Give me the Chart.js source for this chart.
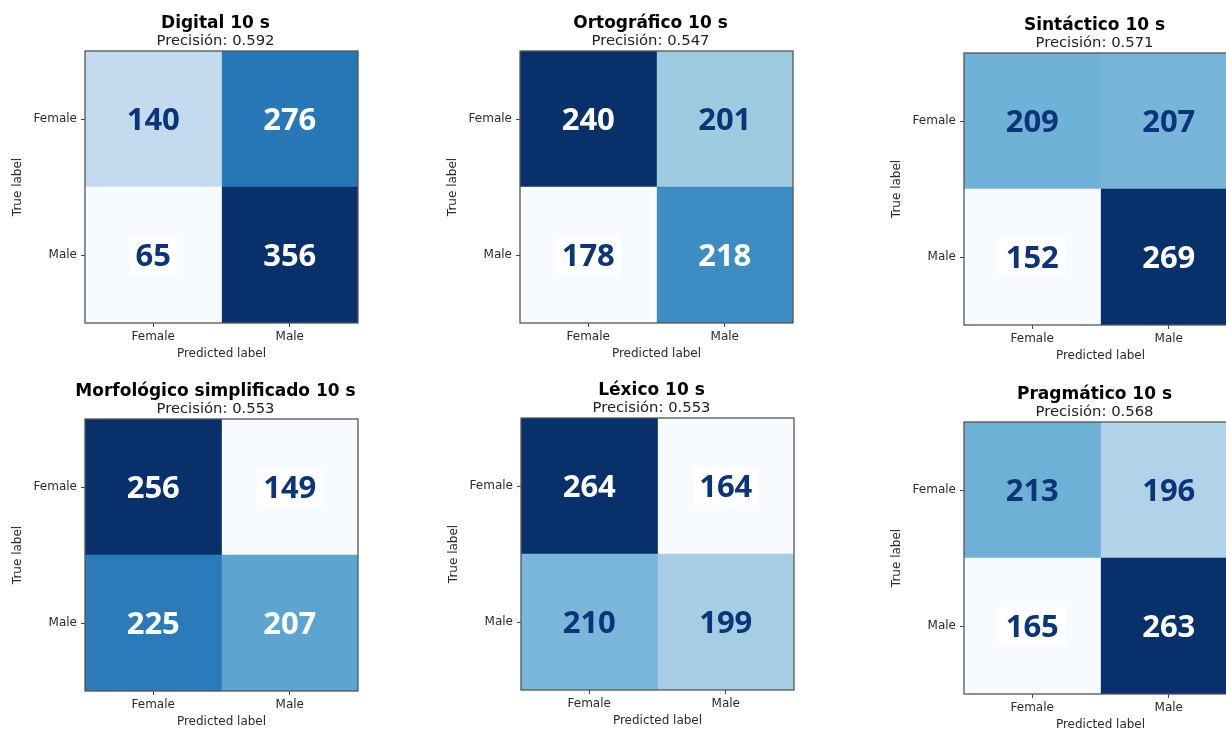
<!DOCTYPE html>
<html>
<head>
<meta charset="utf-8">
<script src="https://cdn.jsdelivr.net/npm/chart.js@4.4.0/dist/chart.umd.min.js"></script>
<style>
    html, body { margin: 0; padding: 0; background: #fff; overflow: hidden; }
    #page { position: relative; width: 1226px; height: 731px; overflow: hidden; }
    #page canvas { position: absolute; }
</style>
</head>
<body>
<div id="page"></div>
<script>
// labels
const categories = ['Female', 'Male'];
const titles = ['Digital 10 s', 'Ortográfico 10 s', 'Sintáctico 10 s',
                'Morfológico simplificado 10 s', 'Léxico 10 s', 'Pragmático 10 s'];
const precision = [0.592, 0.547, 0.571, 0.553, 0.553, 0.568];

// confusion matrices: rows = true label, cols = predicted label
const digital     = [[140, 276], [65, 356]];
const ortografico = [[240, 201], [178, 218]];
const sintactico  = [[209, 207], [152, 269]];
const morfologico = [[256, 149], [225, 207]];
const lexico      = [[264, 164], [210, 199]];
const pragmatico  = [[213, 196], [165, 263]];
const matrices = [digital, ortografico, sintactico, morfologico, lexico, pragmatico];

// where each panel's canvas sits on the page
const panelPos = [[0, 0], [435, 0], [879, 2], [0, 368], [436, 367], [879, 371]];

Chart.defaults.font.family = 'DejaVu Sans';
Chart.defaults.color = '#2b2b2b';

const bluesStops = ['#f7fbff', '#deebf7', '#c6dbef', '#9ecae1', '#6baed6',
                    '#4292c6', '#2171b5', '#08519c', '#08306b'];

function hexToRgb(h) {
    return [parseInt(h.substr(1, 2), 16), parseInt(h.substr(3, 2), 16), parseInt(h.substr(5, 2), 16)];
}

function blues(t) {
    t = Math.max(0, Math.min(1, t));
    let p = t * 8;
    let i = Math.min(7, Math.floor(p));
    let f = p - i;
    let a = hexToRgb(bluesStops[i]), b = hexToRgb(bluesStops[i + 1]);
    let c = a.map((v, k) => Math.round(v + (b[k] - v) * f));
    return 'rgb(' + c.join(',') + ')';
}

const frame = {
    id: 'frame',
    afterDatasetsDraw(chart) {
        const {ctx, chartArea: a} = chart;
        ctx.save();
        ctx.strokeStyle = '#555';
        ctx.lineWidth = 1.3;
        ctx.strokeRect(a.left, a.top, a.right - a.left, a.bottom - a.top);
        ctx.restore();
    }
};

const cellText = {
    id: 'cellText',
    afterDatasetsDraw(chart) {
        const m = chart.options.plugins.cellText.matrix;
        const flat = m.flat();
        const min = Math.min(...flat), max = Math.max(...flat);
        const thresh = (min + max) / 2;
        const ctx = chart.ctx;
        ctx.save();
        ctx.font = 'bold 31px "Open Sans"';
        ctx.textAlign = 'center';
        ctx.textBaseline = 'alphabetic';
        chart.data.datasets.forEach((ds, j) => {
            chart.getDatasetMeta(j).data.forEach((bar, i) => {
                const v = m[i][j];
                const cx = (bar.x + bar.base) / 2;
                const cy = bar.y;
                const txt = String(v);
                if (v === min) {
                    const w = ctx.measureText(txt).width;
                    ctx.fillStyle = '#ffffff';
                    ctx.fillRect(cx - w / 2 - 6, cy - 19, w + 12, 38);
                }
                ctx.fillStyle = v > thresh ? '#ffffff' : '#0a357a';
                ctx.fillText(txt, cx, cy + 11);
            });
        });
        ctx.restore();
    }
};

function makePanel(k) {
    const m = matrices[k];
    const flat = m.flat();
    const min = Math.min(...flat), max = Math.max(...flat);

    const cv = document.createElement('canvas');
    cv.width = 431;
    cv.height = 368;
    cv.style.left = panelPos[k][0] + 'px';
    cv.style.top = panelPos[k][1] + 'px';
    document.getElementById('page').appendChild(cv);

    new Chart(cv, {
        type: 'bar',
        data: {
            labels: categories,
            datasets: categories.map((pred, j) => ({
                label: pred,
                data: m.map(() => 1),
                backgroundColor: m.map(row => blues((row[j] - min) / (max - min))),
                borderWidth: 0,
                barPercentage: 1,
                categoryPercentage: 1,
            }))
        },
        options: {
            indexAxis: 'y',
            responsive: false,
            animation: false,
            events: [],
            layout: { padding: 0 },
            plugins: {
                legend: { display: false },
                tooltip: { enabled: false },
                title: {
                    display: true,
                    text: titles[k],
                    color: '#000',
                    font: { size: 17, weight: 'bold', lineHeight: 1 },
                    padding: { top: 15, bottom: 0 },
                },
                subtitle: {
                    display: true,
                    text: 'Precisión: ' + precision[k].toFixed(3),
                    color: '#222',
                    font: { size: 14.8, lineHeight: 1 },
                    padding: { top: 1.5, bottom: 2.7 },
                },
                cellText: { matrix: m },
            },
            scales: {
                x: {
                    type: 'linear',
                    stacked: true,
                    min: 0,
                    max: 2,
                    afterBuildTicks: (s) => { s.ticks = [{ value: 0.5 }, { value: 1.5 }]; },
                    afterFit: (s) => { s.height = 45; },
                    ticks: {
                        callback: (v) => categories[Math.floor(v)],
                        autoSkip: false,
                        maxRotation: 0,
                        padding: 3,
                        font: { size: 12 },
                    },
                    grid: { drawOnChartArea: false, tickLength: 4, color: '#444' },
                    border: { display: false },
                    title: {
                        display: true,
                        text: 'Predicted label',
                        font: { size: 12 },
                        padding: { top: 0, bottom: 7 },
                    },
                },
                y: {
                    type: 'category',
                    stacked: true,
                    offset: true,
                    afterFit: (s) => { s.width = 85; },
                    ticks: { padding: 4, font: { size: 12 } },
                    grid: { offset: false, drawOnChartArea: false, tickLength: 4, color: '#444' },
                    border: { display: false },
                    title: {
                        display: true,
                        text: 'True label',
                        font: { size: 12 },
                        padding: { top: 11, bottom: 0 },
                    },
                },
                // empty right axis, only to keep the plot square and the title centred
                spacer: {
                    type: 'linear',
                    position: 'right',
                    display: true,
                    afterFit: (s) => { s.width = 73; },
                    ticks: { display: false },
                    grid: { display: false },
                    border: { display: false },
                },
            },
        },
        plugins: [frame, cellText],
    });
}

for (let k = 0; k < matrices.length; k++) {
    makePanel(k);
}
</script>
</body>
</html>
